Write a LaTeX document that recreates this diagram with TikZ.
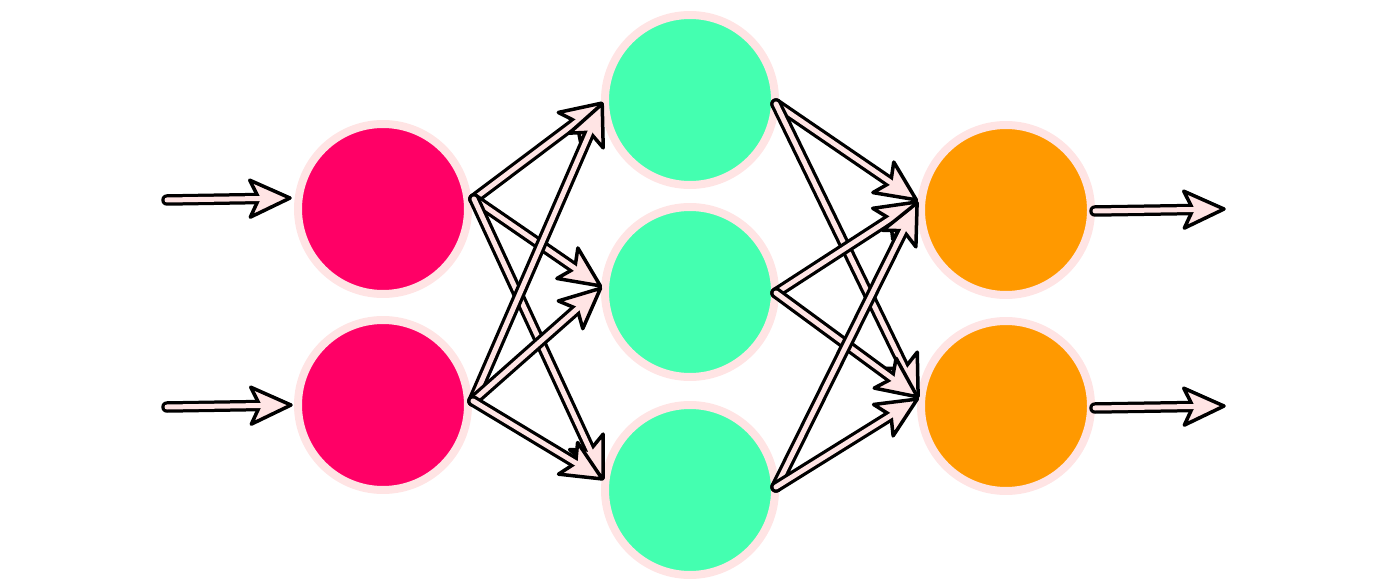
\documentclass[tikz,border=0pt]{standalone}
\definecolor{ring}{RGB}{255,228,228}
\definecolor{apink}{RGB}{255,228,228}
\definecolor{nred}{RGB}{255,0,102}
\definecolor{ngreen}{RGB}{68,255,176}
\definecolor{norange}{RGB}{255,153,0}
\tikzset{
  ahead/.pic={\draw[line width=3.5pt, line join=round, fill=apink]
     (-2pt,0pt) -- (-42pt,18.5pt) -- (-33pt,0pt) -- (-42pt,-18.5pt) -- cycle;},
  shaftout/.style={line width=11.5pt, black, line cap=round, shorten >=28pt},
  shaftin/.style={line width=5pt, apink, line cap=round, shorten >=29pt}
}
\newcommand\hollowarrow[2]{%
  \draw[shaftout] (#1) -- (#2);
  \path (#1) -- (#2) pic[pos=1, sloped, allow upside down] {ahead};
  \draw[shaftin] (#1) -- (#2);
}
\begin{document}
\begin{tikzpicture}[x=1pt,y=-1pt,
  neuron/.style={circle, minimum size=170pt, inner sep=0pt, draw=ring, line width=8pt}]
\useasboundingbox (0,0) rectangle (1397,588);
% neurons
\node[neuron, fill=nred] (r1) at (383,209) {};
\node[neuron, fill=nred] (r2) at (383,405) {};
\node[neuron, fill=ngreen] (g1) at (690,100) {};
\node[neuron, fill=ngreen] (g2) at (690,292) {};
\node[neuron, fill=ngreen] (g3) at (690,490) {};
\node[neuron, fill=norange] (o1) at (1006,210) {};
\node[neuron, fill=norange] (o2) at (1006,406) {};
% connector ends
\coordinate (in1) at (167,200);
\coordinate (in2) at (167,407);
\coordinate (r1i) at (292,198);
\coordinate (r2i) at (293,405);
\coordinate (r1o) at (474,199);
\coordinate (r2o) at (473,401);
\coordinate (g1i) at (603,102);
\coordinate (g2i) at (602,287);
\coordinate (g3i) at (604,480);
\coordinate (g1o) at (776,104);
\coordinate (g2o) at (776,293);
\coordinate (g3o) at (776,487);
\coordinate (o1i) at (918,201);
\coordinate (o2i) at (919,398);
\coordinate (o1o) at (1095,211);
\coordinate (o2o) at (1095,408);
\coordinate (out1) at (1226,209);
\coordinate (out2) at (1226,406);
% inputs
\hollowarrow{in1}{r1i}
\hollowarrow{in2}{r2i}
% layer 1 -> 2
\hollowarrow{r1o}{g1i}
\hollowarrow{r1o}{g2i}
\hollowarrow{r1o}{g3i}
\hollowarrow{r2o}{g1i}
\hollowarrow{r2o}{g2i}
\hollowarrow{r2o}{g3i}
% layer 2 -> 3
\hollowarrow{g1o}{o1i}
\hollowarrow{g1o}{o2i}
\hollowarrow{g2o}{o1i}
\hollowarrow{g2o}{o2i}
\hollowarrow{g3o}{o1i}
\hollowarrow{g3o}{o2i}
% outputs
\hollowarrow{o1o}{out1}
\hollowarrow{o2o}{out2}
\end{tikzpicture}
\end{document}
